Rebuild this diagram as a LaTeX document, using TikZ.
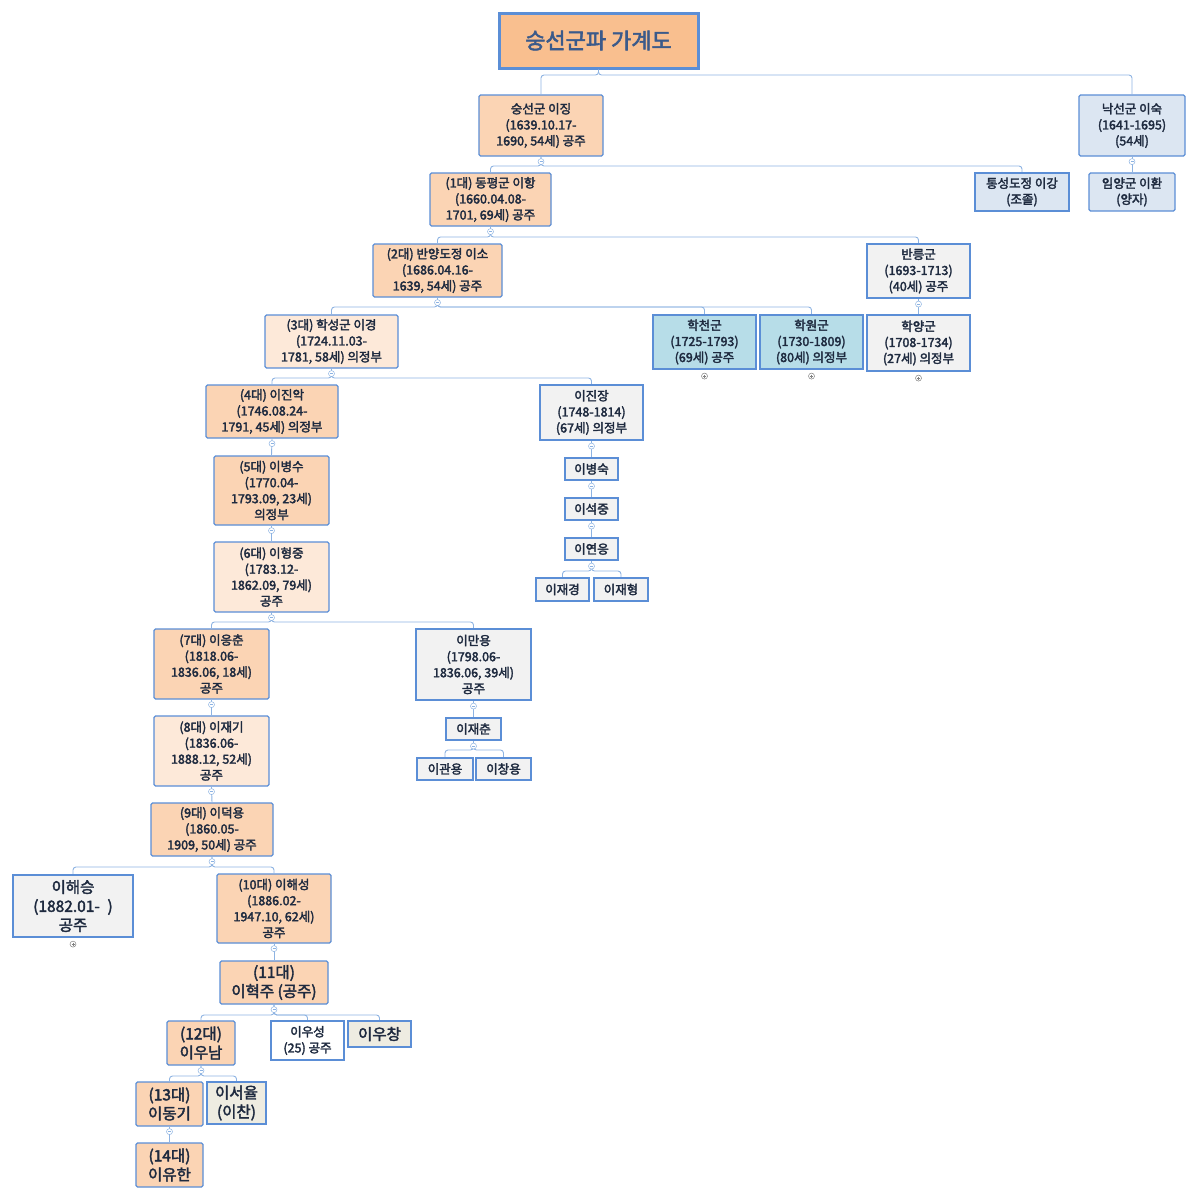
\documentclass[tikz,border=0pt]{standalone}
\usepackage{fontspec}
\setmainfont{Noto Sans CJK KR}[FakeBold=2.5]
\begin{document}
\begin{tikzpicture}[x=1pt,y=-1pt,
  box/.style={draw=bx,line width=1.2pt,rounded corners=1.5pt,inner sep=0pt,align=center,text=tx,font=\fontsize{12.5}{16}\selectfont},
  thk/.style={line width=2.2pt,rounded corners=0pt},
  big/.style={font=\fontsize{15.5}{19}\selectfont},
  org/.style={fill=or},lor/.style={fill=lo},gry/.style={fill=gy},blu/.style={fill=bl},sky/.style={fill=sk},bei/.style={fill=be},wht/.style={fill=white},
  ln/.style={draw=lc,line width=0.9pt,rounded corners=3pt}]
\definecolor{bx}{HTML}{5B8ED6}\definecolor{tx}{HTML}{1E2A3F}\definecolor{lc}{HTML}{8DB3E2}
\definecolor{or}{HTML}{FBD4B4}\definecolor{lo}{HTML}{FDE9D9}\definecolor{gy}{HTML}{F2F2F2}
\definecolor{bl}{HTML}{DCE6F2}\definecolor{sk}{HTML}{B7DDE8}\definecolor{be}{HTML}{EEECE1}
\definecolor{ti}{HTML}{F9BF8F}
\useasboundingbox (0,0) rectangle (1198,1200);
\newcommand\bx[7]{\node[box,#6,minimum width={#4-#2},minimum height={#5-#3}] (#1) at ({(#2+#4)/2},{(#3+#5)/2}) {#7};}
\bx{T}{499}{13}{698}{68}{thk,fill=ti,line width=3pt}{\textcolor[HTML]{3B5A8A}{\fontsize{22}{24}\selectfont 숭선군파 가계도}}
\bx{A}{479}{95}{603}{156}{org}{숭선군 이징\\(1639.10.17-\\1690, 54세) 공주}
\bx{B}{1079}{95}{1185}{156}{blu}{낙선군 이숙\\(1641-1695)\\(54세)}
\bx{C}{430}{173}{551}{226}{org}{(1대) 동평군 이항\\(1660.04.08-\\1701, 69세) 공주}
\bx{D}{975}{173}{1069}{211}{blu,thk}{통성도정 이강\\(조졸)}
\bx{E}{1089}{173}{1175}{211}{blu}{임양군 이환\\(양자)}
\bx{F}{373}{244}{502}{297}{org}{(2대) 반양도정 이소\\(1686.04.16-\\1639, 54세) 공주}
\bx{G}{867}{244}{970}{298}{gry,thk}{반릉군\\(1693-1713)\\(40세) 공주}
\bx{H}{265}{315}{398}{368}{lor}{(3대) 학성군 이경\\(1724.11.03-\\1781, 58세) 의정부}
\bx{I}{653}{315}{756}{369}{sky,thk}{학천군\\(1725-1793)\\(69세) 공주}
\bx{J}{760}{315}{863}{369}{sky,thk}{학원군\\(1730-1809)\\(80세) 의정부}
\bx{K}{867}{315}{970}{371}{gry,thk}{학양군\\(1708-1734)\\(27세) 의정부}
\bx{L}{206}{385}{338}{438}{org}{(4대) 이진악\\(1746.08.24-\\1791, 45세) 의정부}
\bx{M}{540}{385}{643}{440}{gry,thk}{이진장\\(1748-1814)\\(67세) 의정부}
\bx{N}{214}{456}{329}{525}{org}{(5대) 이병수\\(1770.04-\\1793.09, 23세)\\의정부}
\bx{O}{565}{458}{618}{480}{gry,thk}{이병숙}
\bx{P}{565}{498}{618}{520}{gry,thk}{이석중}
\bx{Q}{565}{538}{618}{560}{gry,thk}{이연응}
\bx{R}{536}{578}{589}{601}{gry,thk}{이재경}
\bx{S}{594}{578}{648}{601}{gry,thk}{이재형}
\bx{U6}{214}{542}{329}{612}{lor}{(6대) 이형중\\(1783.12-\\1862.09, 79세)\\공주}
\bx{U}{154}{629}{269}{699}{org}{(7대) 이응춘\\(1818.06-\\1836.06, 18세)\\공주}
\bx{V}{416}{629}{531}{700}{gry,thk}{이만용\\(1798.06-\\1836.06, 39세)\\공주}
\bx{W}{446}{718}{501}{740}{gry,thk}{이재춘}
\bx{X}{417}{758}{473}{780}{gry,thk}{이관용}
\bx{Y}{476}{758}{531}{780}{gry,thk}{이창용}
\bx{Z}{154}{716}{269}{786}{lor}{(8대) 이재기\\(1836.06-\\1888.12, 52세)\\공주}
\bx{AA}{151}{803}{273}{856}{org}{(9대) 이덕용\\(1860.05-\\1909, 50세) 공주}
\bx{AB}{13}{875}{133}{937}{gry,thk,big}{이해승\\(1882.01-\enspace)\\공주}
\bx{AC}{217}{874}{331}{943}{org}{(10대) 이해성\\(1886.02-\\1947.10, 62세)\\공주}
\bx{AD}{220}{961}{328}{1004}{org,big}{(11대)\\이혁주 (공주)}
\bx{AE}{167}{1021}{235}{1065}{org,big}{(12대)\\이우남}
\bx{AF}{271}{1021}{344}{1060}{wht,thk}{이우성\\(25) 공주}
\bx{AG}{348}{1021}{411}{1047}{bei,thk,big}{이우창}
\bx{AH}{136}{1082}{203}{1126}{org,big}{(13대)\\이동기}
\bx{AI}{207}{1082}{266}{1124}{bei,thk,big}{이서율\\(이찬)}
\bx{AJ}{136}{1143}{203}{1187}{org,big}{(14대)\\이유한}
\newcommand\cn[3]{\foreach \c in {#3} {\draw[ln] (#1.south) -- (#1.south |- 0,#2) -| (\c.north);}}
\newcommand\st[2]{\draw[ln] (#1.south) -- (#2.north);}
\cn{T}{75}{A,B}
\cn{A}{166}{C,D}
\st{B}{E}
\cn{C}{237}{F,G}
\cn{F}{307}{H,I,J}
\st{G}{K}
\cn{H}{378}{L,M}
\st{L}{N}\st{M}{O}\st{O}{P}\st{P}{Q}
\cn{Q}{571}{R,S}
\st{N}{U6}
\cn{U6}{622}{U,V}
\st{U}{Z}\st{Z}{AA}\st{V}{W}
\cn{W}{750}{X,Y}
\cn{AA}{867}{AB,AC}
\st{AC}{AD}
\cn{AD}{1015}{AE,AF,AG}
\cn{AE}{1076}{AH,AI}
\st{AH}{AJ}
\foreach \n in {A,B,C,F,G,H,L,M,N,O,P,Q,U6,U,V,W,Z,AA,AC,AD,AE,AH} {
  \draw[lc,fill=white,line width=0.5pt] ([yshift=-5pt]\n.south) circle (3pt);
  \draw[lc,line width=0.5pt] ([xshift=-1.5pt,yshift=-5pt]\n.south) -- ++(3pt,0);}
\foreach \n in {I,J,K,AB} {
  \draw[gray,fill=white,line width=0.5pt] ([yshift=-6pt]\n.south) circle (3pt);
  \draw[gray,line width=0.5pt] ([xshift=-1.5pt,yshift=-6pt]\n.south) -- ++(3pt,0) ([yshift=-4.5pt]\n.south) -- ++(0,-3pt);}
\end{tikzpicture}
\end{document}
